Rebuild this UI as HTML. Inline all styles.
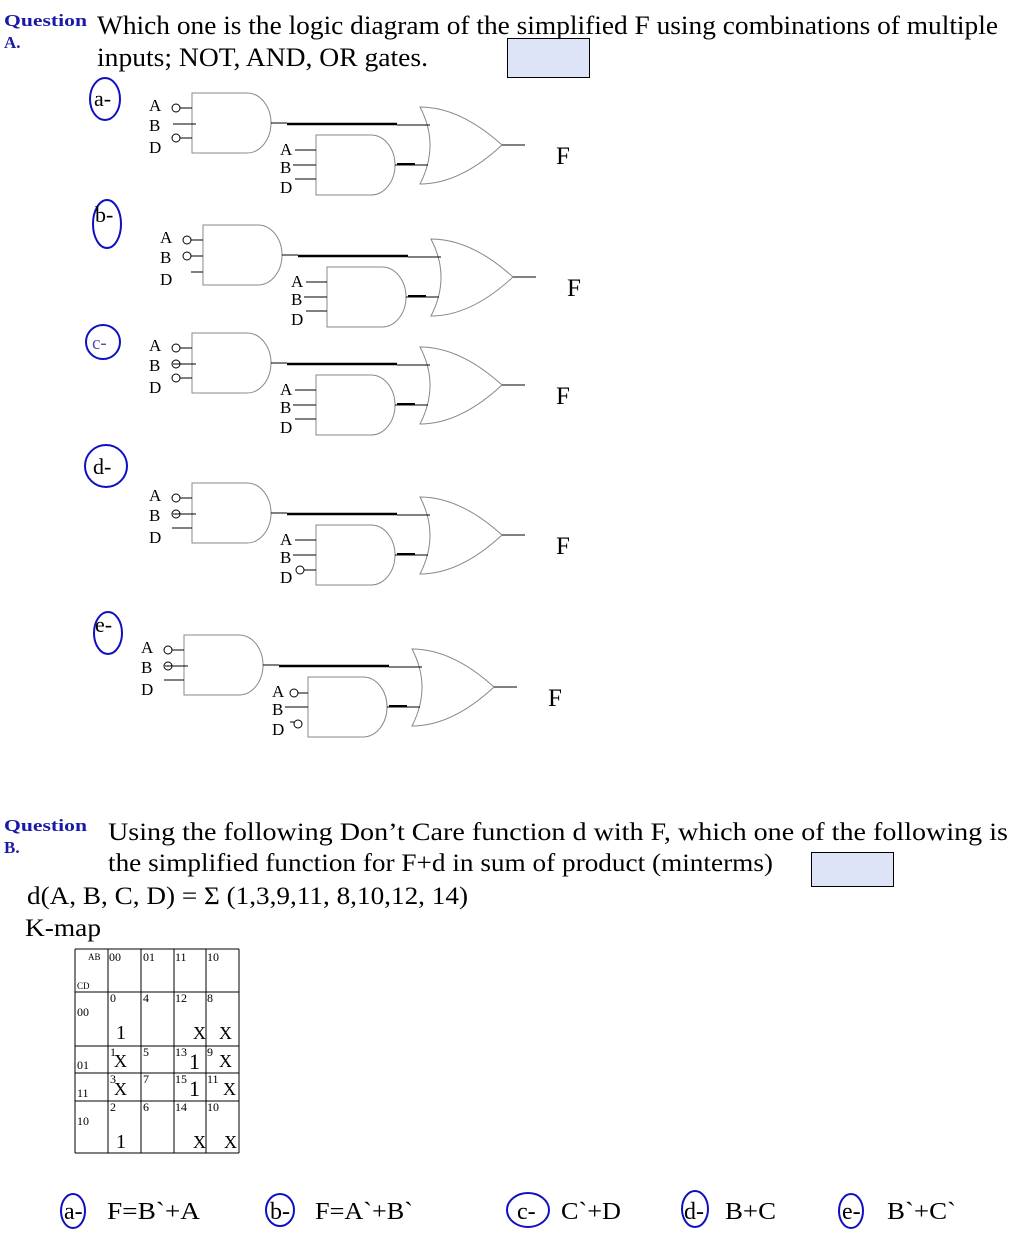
<!DOCTYPE html>
<html><head><meta charset="utf-8"><style>
html,body{margin:0;padding:0;background:#fff;}
svg{display:block;font-family:"Liberation Serif",serif;}
</style></head><body>
<svg width="1031" height="1247" viewBox="0 0 1031 1247" xmlns="http://www.w3.org/2000/svg">
<defs>
<g id="base">
  <path d="M192,93 H247 A24,30 0 0 1 247,153 H192 Z" fill="none" stroke="#888" stroke-width="1"/>
  <path d="M316,135 H371 A24,30 0 0 1 371,195 H316 Z" fill="none" stroke="#888" stroke-width="1"/>
  <path d="M420,107 Q460,107 502,145 Q460,184 420,184 Q440,145 420,107 Z" fill="none" stroke="#888" stroke-width="1"/>
  <line x1="271" y1="123" x2="287" y2="123" stroke="#000"/>
  <line x1="287" y1="124" x2="397" y2="124" stroke="#000" stroke-width="2.5"/>
  <line x1="397" y1="125" x2="430" y2="125" stroke="#000"/>
  <line x1="395" y1="165" x2="428" y2="165" stroke="#000"/>
  <line x1="397" y1="164" x2="415" y2="164" stroke="#000" stroke-width="2"/>
  <line x1="502" y1="145" x2="525" y2="145" stroke="#000"/>
  <text x="556" y="164" font-size="25">F</text>
  <text x="149" y="111" font-size="17">A</text>
  <text x="149" y="131" font-size="17">B</text>
  <text x="149" y="153" font-size="17">D</text>
  <text x="280" y="155" font-size="17">A</text>
  <text x="280" y="173" font-size="17">B</text>
  <text x="280" y="193" font-size="17">D</text>
</g>
</defs>
<text x="4" y="26" font-size="17" font-weight="bold" fill="#1a1aa8" textLength="83" lengthAdjust="spacingAndGlyphs">Question</text>
<text x="4" y="48" font-size="17" font-weight="bold" fill="#1a1aa8">A.</text>
<text x="97" y="34" font-size="26" textLength="901" lengthAdjust="spacingAndGlyphs">Which one is the logic diagram of the simplified F using combinations of multiple</text>
<text x="97" y="66" font-size="26" textLength="331" lengthAdjust="spacingAndGlyphs">inputs; NOT, AND, OR gates.</text>
<rect x="507.5" y="38.5" width="82" height="39" fill="#dde4f8" stroke="#000"/>

<!-- a -->
<g>
<use href="#base"/>
<circle cx="176" cy="108" r="4" fill="none" stroke="#000"/><line x1="180" y1="108" x2="192" y2="108" stroke="#000"/>
<line x1="173" y1="124" x2="196" y2="124" stroke="#000"/>
<circle cx="176" cy="138" r="4" fill="none" stroke="#000"/><line x1="180" y1="138" x2="192" y2="138" stroke="#000"/>
<line x1="295" y1="150" x2="316" y2="150" stroke="#000"/>
<line x1="293" y1="165" x2="316" y2="165" stroke="#000"/>
<line x1="295" y1="179" x2="316" y2="179" stroke="#000"/>
</g>
<!-- b -->
<g transform="translate(11,132)">
<use href="#base"/>
<circle cx="176" cy="108" r="4" fill="none" stroke="#000"/><line x1="180" y1="108" x2="192" y2="108" stroke="#000"/>
<circle cx="176" cy="124" r="4" fill="none" stroke="#000"/><line x1="180" y1="124" x2="192" y2="124" stroke="#000"/>
<line x1="180" y1="140" x2="192" y2="140" stroke="#000"/>
<line x1="295" y1="150" x2="316" y2="150" stroke="#000"/>
<line x1="293" y1="165" x2="316" y2="165" stroke="#000"/>
<line x1="295" y1="179" x2="316" y2="179" stroke="#000"/>
</g>
<!-- c -->
<g transform="translate(0,240)">
<use href="#base"/>
<circle cx="176" cy="108" r="4" fill="none" stroke="#000"/><line x1="180" y1="108" x2="192" y2="108" stroke="#000"/>
<circle cx="176" cy="124" r="4" fill="none" stroke="#000"/><line x1="173" y1="124" x2="196" y2="124" stroke="#000"/>
<circle cx="176" cy="138" r="4" fill="none" stroke="#000"/><line x1="180" y1="138" x2="192" y2="138" stroke="#000"/>
<line x1="295" y1="150" x2="316" y2="150" stroke="#000"/>
<line x1="293" y1="165" x2="316" y2="165" stroke="#000"/>
<line x1="295" y1="179" x2="316" y2="179" stroke="#000"/>
</g>
<!-- d -->
<g transform="translate(0,390)">
<use href="#base"/>
<circle cx="176" cy="108" r="4" fill="none" stroke="#000"/><line x1="180" y1="108" x2="192" y2="108" stroke="#000"/>
<circle cx="176" cy="124" r="4" fill="none" stroke="#000"/><line x1="173" y1="124" x2="196" y2="124" stroke="#000"/>
<line x1="172" y1="138" x2="192" y2="138" stroke="#000"/>
<line x1="295" y1="150" x2="316" y2="150" stroke="#000"/>
<line x1="293" y1="165" x2="316" y2="165" stroke="#000"/>
<circle cx="300" cy="180" r="4" fill="none" stroke="#000"/><line x1="304" y1="180" x2="316" y2="180" stroke="#000"/>
</g>
<!-- e -->
<g transform="translate(-8,542)">
<use href="#base"/>
<circle cx="176" cy="108" r="4" fill="none" stroke="#000"/><line x1="180" y1="108" x2="192" y2="108" stroke="#000"/>
<circle cx="176" cy="124" r="4" fill="none" stroke="#000"/><line x1="173" y1="124" x2="196" y2="124" stroke="#000"/>
<line x1="172" y1="138" x2="192" y2="138" stroke="#000"/>
<circle cx="302" cy="151" r="4" fill="none" stroke="#000"/><line x1="306" y1="151" x2="316" y2="151" stroke="#000"/>
<line x1="293" y1="165" x2="316" y2="165" stroke="#000"/>
<circle cx="306" cy="182" r="4" fill="none" stroke="#000"/><line x1="298" y1="180" x2="302" y2="180" stroke="#000"/>
</g>

<!-- option circles -->
<g fill="none" stroke="#1010c0" stroke-width="2">
<ellipse cx="105" cy="99" rx="15" ry="21"/>
<ellipse cx="107" cy="224" rx="14" ry="24"/>
<ellipse cx="103" cy="342" rx="17" ry="17"/>
<ellipse cx="106" cy="466" rx="21" ry="21"/>
<ellipse cx="108" cy="633" rx="14" ry="21"/>
</g>
<text x="94" y="106" font-size="22">a-</text>
<text x="95" y="222" font-size="22">b-</text>
<text x="92" y="349" font-size="19" fill="#5050b0">c-</text>
<text x="93" y="474" font-size="22">d-</text>
<text x="95" y="632" font-size="22">e-</text>

<!-- Question B -->
<text x="4" y="831" font-size="17" font-weight="bold" fill="#1a1aa8" textLength="83" lengthAdjust="spacingAndGlyphs">Question</text>
<text x="4" y="853" font-size="17" font-weight="bold" fill="#1a1aa8">B.</text>
<text x="108" y="840" font-size="25" textLength="900" lengthAdjust="spacingAndGlyphs">Using the following Don’t Care function d with F, which one of the following is</text>
<text x="108" y="871" font-size="25" textLength="665" lengthAdjust="spacingAndGlyphs">the simplified function for F+d in sum of product (minterms)</text>
<rect x="811.5" y="852.5" width="82" height="34" fill="#dde4f8" stroke="#000"/>
<text x="27" y="904" font-size="25" textLength="441" lengthAdjust="spacingAndGlyphs">d(A, B, C, D) = Σ (1,3,9,11, 8,10,12, 14)</text>
<text x="25" y="936" font-size="25" textLength="76" lengthAdjust="spacingAndGlyphs">K-map</text>

<!-- K-map -->
<g stroke="#000" stroke-width="1">
<line x1="75" y1="949" x2="239" y2="949"/>
<line x1="75" y1="992" x2="239" y2="992"/>
<line x1="75" y1="1046" x2="239" y2="1046"/>
<line x1="75" y1="1073" x2="239" y2="1073"/>
<line x1="75" y1="1101" x2="239" y2="1101"/>
<line x1="75" y1="1153" x2="239" y2="1153"/>
<line x1="75" y1="949" x2="75" y2="1153"/>
<line x1="108" y1="949" x2="108" y2="1153"/>
<line x1="141" y1="949" x2="141" y2="1153"/>
<line x1="174" y1="949" x2="174" y2="1153"/>
<line x1="206" y1="949" x2="206" y2="1153"/>
<line x1="239" y1="949" x2="239" y2="1153"/>
</g>
<g font-size="12">
<text x="88" y="960" font-size="9">AB</text><text x="109" y="961">00</text><text x="143" y="961">01</text><text x="175" y="961">11</text><text x="207" y="961">10</text>
<text x="77" y="989" font-size="9">CD</text>
<text x="77" y="1016">00</text><text x="77" y="1069">01</text><text x="77" y="1097">11</text><text x="77" y="1125">10</text>
<text x="110" y="1002">0</text><text x="143" y="1002">4</text><text x="175" y="1002">12</text><text x="207" y="1002">8</text>
<text x="110" y="1056">1</text><text x="143" y="1056">5</text><text x="175" y="1056">13</text><text x="207" y="1056">9</text>
<text x="110" y="1083">3</text><text x="143" y="1083">7</text><text x="175" y="1083">15</text><text x="207" y="1083">11</text>
<text x="110" y="1111">2</text><text x="143" y="1111">6</text><text x="175" y="1111">14</text><text x="207" y="1111">10</text>
</g>
<g font-size="18">
<text x="116" y="1039" font-size="20">1</text><text x="193" y="1039">X</text><text x="219" y="1039">X</text>
<text x="114" y="1067">X</text><text x="189" y="1069" font-size="22">1</text><text x="219" y="1067">X</text>
<text x="114" y="1095">X</text><text x="189" y="1096" font-size="22">1</text><text x="223" y="1095">X</text>
<text x="116" y="1148" font-size="20">1</text><text x="193" y="1148">X</text><text x="224" y="1148">X</text>
</g>

<!-- answers -->
<g fill="none" stroke="#1010c0" stroke-width="2">
<ellipse cx="73" cy="1211" rx="12" ry="17"/>
<ellipse cx="280" cy="1210" rx="14" ry="16"/>
<ellipse cx="528" cy="1210" rx="21" ry="17"/>
<ellipse cx="695" cy="1209" rx="13" ry="18"/>
<ellipse cx="851" cy="1211" rx="12" ry="17"/>
</g>
<g font-size="24">
<text x="64" y="1219">a-</text><text x="107" y="1219" textLength="93" lengthAdjust="spacingAndGlyphs">F=B`+A</text>
<text x="270" y="1219">b-</text><text x="315" y="1219" textLength="98" lengthAdjust="spacingAndGlyphs">F=A`+B`</text>
<text x="517" y="1219">c-</text><text x="561" y="1219" textLength="60" lengthAdjust="spacingAndGlyphs">C`+D</text>
<text x="684" y="1219">d-</text><text x="725" y="1219" textLength="51" lengthAdjust="spacingAndGlyphs">B+C</text>
<text x="842" y="1219">e-</text><text x="887" y="1219" textLength="69" lengthAdjust="spacingAndGlyphs">B`+C`</text>
</g>
</svg>
</body></html>
